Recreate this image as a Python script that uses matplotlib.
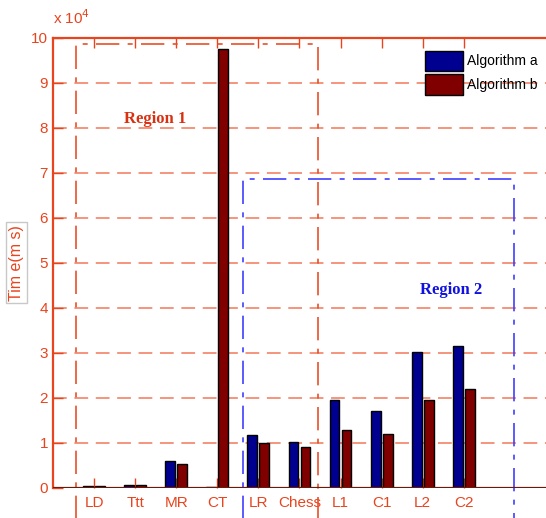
import numpy as np
import matplotlib
matplotlib.use("Agg")
import matplotlib.pyplot as plt
from matplotlib.ticker import FuncFormatter

# benchmark data sets and run times (ms)
datasets = ['LD', 'Ttt', 'MR', 'CT', 'LR', 'Chess', 'L1', 'C1', 'L2', 'C2']
algo_a = [350, 600, 6000, 120, 11650, 10200, 19600, 17000, 30100, 31400]
algo_b = [350, 600, 5200, 97500, 9900, 9100, 12750, 11900, 19600, 21900]

# dashed region boxes (x from, x to, top) in axis units
region1 = (0.57, 6.46, 98600)
region2 = (4.63, 11.22, 68600)

AX_RED = '#e8441e'
BLUE = '#000090'
DARK_RED = '#800000'

plt.rcParams['font.family'] = ['Liberation Sans', 'DejaVu Sans']

fig = plt.figure(figsize=(5.46, 5.18), dpi=100)
ax = fig.add_axes([0.097, 0.0585, 0.903, 0.8685])

x = np.arange(1, len(datasets) + 1)
w = 0.24
off = 0.146

ax.bar(x - off, algo_a, w, color=BLUE, edgecolor='black', linewidth=1, label='Algorithm a', zorder=3)
ax.bar(x + off, algo_b, w, color=DARK_RED, edgecolor='black', linewidth=1, label='Algorithm b', zorder=3)

ax.set_xlim(0, 12)
ax.set_ylim(0, 100000)
ax.set_xticks(x)
ax.set_xticklabels(datasets)
ax.set_yticks(np.arange(0, 100001, 10000))
ax.yaxis.set_major_formatter(FuncFormatter(lambda v, p: f'{v / 1e4:g}'))

# horizontal dashed grid
for yv in np.arange(10000, 100000, 10000):
    ax.axhline(yv, color='#f0603c', lw=1.1, ls=(0, (9, 5)), alpha=0.85, zorder=1)

ax.axhline(0, color='#6b1a0a', lw=1.6, zorder=4)

for side in ['bottom', 'right']:
    ax.spines[side].set_visible(False)
for side in ['left', 'top']:
    ax.spines[side].set_color(AX_RED)
    ax.spines[side].set_linewidth(1.6)

ax.tick_params(direction='in', top=True, length=7, color=AX_RED, labelcolor=AX_RED,
               labelsize=11, width=1)
ax.tick_params(axis='x', pad=6)

ax.text(0.0, 1.025, r'x 10$^{4}$', transform=ax.transAxes, color=AX_RED, fontsize=11,
        ha='left', va='bottom')

ax.set_ylabel('Tim e(m s)', color=AX_RED, fontsize=11.5, labelpad=5,
              bbox=dict(facecolor='white', edgecolor='#c8c8c8', pad=2))

# region boxes
def draw_region(r, color, lw):
    x0, x1, top = r
    kw = dict(color=color, lw=lw, ls=(0, (14, 5, 3, 5)), clip_on=False, zorder=2)
    ax.plot([x0, x0, x1, x1], [-7000, top, top, -7000], **kw)

draw_region(region1, '#e8502a', 1.2)
draw_region(region2, '#4040ff', 1.2)

ax.text(2.49, 82000, 'Region 1', color='#d83010', fontsize=12, fontweight='bold',
        family='Liberation Serif', ha='center', va='center')
ax.text(9.68, 44000, 'Region 2', color='#1010e0', fontsize=12, fontweight='bold',
        family='Liberation Serif', ha='center', va='center')

ax.legend(loc='upper right', frameon=False, fontsize=10, handlelength=2.7, handleheight=1.9,
          bbox_to_anchor=(1.0, 0.99), borderaxespad=0.2, labelspacing=0.2, handletextpad=0.3)

fig.savefig('out.png', dpi=100)
